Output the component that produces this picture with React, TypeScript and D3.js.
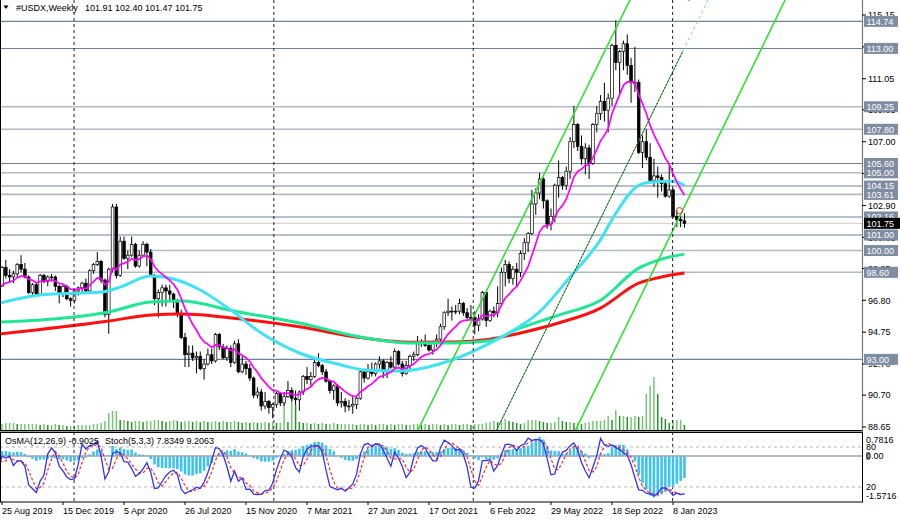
import { useRef, useEffect } from "react";
import * as d3 from "d3";

// weekly bars; the first 26 weeks (24 Feb 2019 .. 18 Aug 2019) sit left of the frame
// and only warm up the indicators. Week 0 is 25 Aug 2019.
const hiddenWeeks = 26;
const firstOpen = 96.4;

const closes = [
  96.5, 97.3, 96.6, 96.6, 97.3, 97.4, 97.0, 97.4, 98.0, 97.5, 97.3, 98.0, 97.6, 97.8, 96.5, 97.6, 96.2, 96.1, 97.3, 96.8, 97.1, 98.0, 98.1, 97.5, 98.1, 97.7,
  98.9, 98.4, 98.3, 98.5, 99.1, 98.8, 98.3, 97.3, 97.8, 97.2,
  98.4, 98.0, 98.3, 98.3, 97.7, 97.2, 97.7, 96.9, 96.8, 97.4,
  97.6, 97.9, 97.4, 98.7, 99.1, 99.3, 98.1, 95.9, 98.8, 102.8,
  98.4, 100.6, 99.5, 99.7, 100.4, 99.0, 99.7, 100.4, 99.9, 98.4,
  96.9, 97.3, 97.6, 97.4, 97.2, 96.7, 95.9, 94.4, 93.3, 93.4,
  93.1, 93.2, 92.4, 92.7, 93.3, 92.9, 94.6, 93.8, 93.1, 93.7,
  92.8, 94.0, 92.2, 92.7, 92.4, 91.8, 90.7, 90.9, 90.0, 90.3,
  89.9, 90.1, 90.8, 90.2, 90.6, 91.0, 90.5, 90.4, 90.9, 91.9,
  91.7, 91.9, 92.8, 92.6, 92.2, 91.6, 91.0, 91.3, 90.2, 90.3,
  90.0, 90.0, 90.1, 90.5, 92.2, 91.8, 92.2, 92.1, 92.7, 92.9,
  92.2, 92.8, 92.5, 93.5, 92.7, 92.1, 92.6, 93.2, 93.3, 94.0,
  94.1, 93.9, 93.6, 94.1, 94.3, 95.1, 96.0, 96.1, 96.1, 96.1,
  96.6, 96.0, 95.7, 95.7, 95.2, 95.6, 97.3, 95.5, 96.1, 96.0,
  96.6, 98.6, 99.1, 98.2, 98.8, 98.6, 99.8, 100.5, 101.1, 103.0,
  103.7, 104.6, 103.2, 101.7, 102.2, 104.2, 104.7, 104.2, 105.1, 107.0,
  108.1, 106.7, 105.9, 106.6, 105.6, 108.1, 108.8, 109.6, 109.0, 109.8,
  113.2, 112.1, 112.8, 113.3, 111.9, 110.8, 110.8, 106.3, 107.0, 106.0,
  104.5, 104.8, 104.7, 104.3, 103.5, 103.9, 102.2, 102.0, 101.91, 101.75,
];

const highs = [
  96.6, 97.7, 97.4, 96.9, 97.3, 97.5, 97.4, 97.5, 98.3, 98.1, 97.7, 98.0, 98.4, 98.3, 97.8, 97.6, 97.8, 96.4, 97.3, 97.6, 97.3, 98.1, 98.9, 98.2, 98.2, 98.5,
  99.0, 99.4, 98.8, 98.7, 99.2, 99.7, 99.2, 98.4, 97.9, 97.9,
  98.5, 98.5, 98.4, 98.5, 98.4, 97.8, 97.8, 97.8, 97.0, 97.5,
  97.7, 98.0, 98.2, 98.8, 99.2, 99.9, 99.4, 98.2, 98.9, 103.0,
  103.0, 100.9, 100.9, 100.0, 100.9, 100.5, 100.0, 100.6, 100.5, 100.1,
  98.5, 97.5, 97.8, 97.8, 97.8, 97.3, 96.9, 96.2, 94.7, 93.9,
  93.9, 93.5, 93.5, 93.0, 93.7, 93.7, 94.7, 94.7, 94.0, 93.9,
  93.9, 94.2, 94.3, 93.2, 92.9, 92.7, 91.9, 91.2, 91.1, 90.9,
  90.4, 90.2, 90.9, 90.9, 90.9, 91.6, 91.2, 91.0, 91.0, 92.0,
  92.5, 92.2, 93.0, 93.4, 92.7, 92.4, 91.7, 91.4, 91.4, 90.9,
  90.5, 90.4, 90.6, 90.6, 92.4, 92.4, 92.7, 92.8, 92.8, 93.2,
  93.0, 92.9, 93.2, 93.7, 93.6, 92.9, 92.9, 93.3, 93.5, 94.5,
  94.3, 94.6, 94.0, 94.2, 94.6, 95.3, 96.1, 96.9, 96.4, 96.5,
  96.9, 96.7, 96.3, 96.5, 96.1, 95.9, 97.4, 97.4, 96.2, 96.4,
  97.7, 98.9, 99.4, 99.3, 99.0, 99.2, 100.0, 100.8, 101.2, 103.9,
  104.0, 105.0, 104.7, 103.3, 102.7, 104.3, 105.8, 104.8, 105.4, 107.3,
  109.3, 108.2, 107.4, 106.9, 106.8, 108.2, 109.3, 110.0, 110.8, 110.1,
  113.3, 114.8, 112.9, 113.5, 113.9, 112.4, 113.1, 111.0, 107.4, 107.8,
  106.9, 105.9, 105.4, 104.9, 104.5, 105.6, 104.0, 102.6, 102.3, 102.4,
];

const lows = [
  95.9, 96.3, 96.5, 95.7, 96.5, 96.9, 96.7, 96.8, 97.3, 97.2, 97.0, 97.2, 97.5, 97.5, 96.5, 96.5, 96.1, 95.8, 96.0, 96.6, 96.6, 97.0, 97.9, 97.0, 97.2, 97.7,
  97.8, 98.2, 97.9, 97.9, 98.3, 98.6, 98.2, 97.2, 97.1, 97.1,
  97.1, 97.9, 97.7, 98.0, 97.4, 96.6, 97.0, 96.8, 96.4, 96.6,
  97.1, 97.3, 97.3, 97.3, 98.5, 99.0, 97.9, 95.7, 94.65, 98.6,
  98.2, 98.3, 99.4, 98.8, 99.6, 98.9, 98.9, 99.6, 99.0, 98.3,
  96.5, 95.7, 96.4, 96.4, 96.8, 96.3, 95.7, 94.3, 92.5, 92.5,
  92.9, 92.1, 92.3, 91.7, 92.6, 92.7, 92.8, 93.6, 93.0, 92.9,
  92.5, 92.7, 92.1, 92.1, 92.0, 91.6, 90.5, 90.5, 89.7, 89.8,
  89.5, 89.2, 89.9, 90.0, 90.0, 90.5, 90.3, 90.1, 89.7, 90.7,
  91.4, 91.3, 91.8, 92.5, 92.0, 91.5, 90.8, 90.4, 90.0, 89.9,
  89.6, 89.7, 89.5, 89.8, 90.4, 91.5, 91.7, 91.9, 91.9, 92.4,
  91.8, 91.8, 92.4, 92.4, 92.6, 91.9, 92.0, 92.3, 92.9, 93.2,
  93.8, 93.8, 93.5, 93.3, 93.8, 93.9, 94.9, 95.8, 95.5, 95.9,
  95.9, 95.8, 95.6, 95.6, 94.6, 94.8, 95.5, 95.1, 95.4, 95.7,
  95.7, 96.5, 97.7, 97.9, 97.8, 97.7, 98.3, 99.4, 99.9, 101.0,
  102.3, 103.3, 102.7, 101.4, 101.3, 101.8, 103.4, 103.9, 103.9, 104.6,
  106.6, 106.4, 105.5, 104.9, 104.6, 105.5, 107.6, 108.4, 108.3, 107.6,
  109.3, 111.6, 110.1, 111.6, 111.3, 109.5, 110.2, 106.2, 105.3, 105.8,
  104.4, 104.1, 103.4, 103.8, 103.4, 103.4, 102.1, 101.5, 101.5, 101.47,
];

// tick volume, thousands, from week 0
const volumes = [
  6, 7, 7, 7, 6, 6, 6, 6, 6, 6,
  5, 6, 5, 5, 6, 5, 5, 4, 4, 4,
  5, 5, 5, 5, 6, 6, 7, 9, 17, 19,
  19, 10, 10, 9, 8, 9, 9, 8, 9, 9,
  10, 10, 9, 8, 9, 10, 9, 8, 9, 9,
  8, 9, 8, 9, 8, 8, 9, 8, 9, 8,
  8, 9, 8, 7, 8, 7, 8, 7, 7, 8,
  7, 8, 7, 7, 29, 8, 39, 26, 8, 7,
  7, 6, 7, 6, 7, 6, 6, 7, 6, 6,
  6, 6, 6, 5, 6, 6, 5, 6, 5, 6,
  6, 5, 6, 5, 6, 6, 5, 5, 6, 6,
  5, 6, 5, 6, 6, 5, 6, 5, 6, 6,
  5, 6, 6, 5, 6, 6, 6, 7, 8, 9,
  8, 9, 11, 9, 8, 7, 6, 7, 10, 10,
  10, 9, 8, 7, 7, 8, 13, 9, 8, 8,
  7, 7, 6, 7, 8, 9, 9, 9, 10, 14,
  10, 20, 14, 14, 13, 13, 14, 13, 14, 36,
  44, 53, 36, 13, 11, 7, 10, 10, 10, 5,
];

// long moving averages: [week, value]
const ema50 = [
  [-0.6, 96.62], [10, 97.14], [26, 97.33], [31, 97.65], [39, 98.36], [45, 98.17], [52, 97.46],
  [60, 96.17], [68, 94.69], [78, 93.41], [89, 92.64], [95, 92.32], [104, 92.25], [118, 92.96],
  [128, 94.05], [131, 94.44], [141, 96.05], [149, 98.3], [157, 100.7], [161, 102.4], [167, 104.2],
  [170, 104.4], [176, 104.45], [179, 104.2],
];
const ema144 = [
  [-0.6, 95.4], [28, 96.05], [39, 96.69], [47, 96.75], [61, 96.1], [78, 95.34], [94, 94.44],
  [107, 94.05], [118, 94.05], [128, 94.2], [136, 95.02], [146, 95.85], [157, 96.8], [167, 98.87],
  [173, 99.45], [179, 99.77],
];
const ema200 = [
  [-0.6, 94.63], [28, 95.47], [39, 95.85], [47, 95.92], [62, 95.62], [78, 95.1], [94, 94.4],
  [107, 94.1], [118, 94.12], [128, 94.3], [136, 94.7], [146, 95.34], [157, 96.3], [167, 97.9],
  [173, 98.3], [179, 98.55],
];

// trend channel: [week1, price1, week2, price2]
const channelUpper = [109.1, 88.46, 164.7, 116.11];
const channelMiddle = [129.6, 88.39, 178.6, 112.83];
const channelLower = [150.3, 88.39, 205.4, 116.11];

const levels = [114.74, 113.0, 109.25, 107.8, 105.6, 105.0, 104.15, 103.61, 102.16, 101.0, 100.0, 98.6, 93.0];
const levelDark = [true, true, false, false, true, false, true, false, true, true, false, false, true];

const priceTicks = [115.15, 113.1, 111.05, 109.05, 107.0, 104.95, 102.9, 100.85, 98.85, 96.8, 94.75, 92.7, 90.7, 88.65];
const dateTicks = [
  "25 Aug 2019", "15 Dec 2019", "5 Apr 2020", "26 Jul 2020", "15 Nov 2020", "7 Mar 2021",
  "27 Jun 2021", "17 Oct 2021", "6 Feb 2022", "29 May 2022", "18 Sep 2022", "8 Jan 2023",
];
const gridWeeks = [18.9, 71.3, 123.6, 175.9];

const subLabels = ["0.7816", "80", "0.00", "20", "-1.5716"];
const osmaHeader = "OsMA(12,26,9) -0.9025";
const stochHeader = "Stoch(5,3,3) 7.8349 9.2063";

const App = () => {
  const svgRef = useRef(null);

  useEffect(() => {
    const svg = d3.select(svgRef.current);
    svg.selectAll("*").remove();

    const font = "'Liberation Sans', Arial, sans-serif";
    const right = 862;
    const week0 = Date.UTC(2019, 7, 25);

    const x = d3.scaleLinear().domain([0, 179]).range([2, 684.44]);
    const y = d3.scaleLinear().domain([88.65, 115.15]).range([427, 15]);
    const yVol = d3.scaleLinear().domain([0, 53]).range([430, 377]);
    const yOsma = d3.scaleLinear().domain([-1.5716, 0.7816]).range([500, 434]);
    const yStoch = d3.scaleLinear().domain([0, 100]).range([500.3, 433.7]);

    const bars = closes.map((c, i) => {
      const o = i === 0 ? firstOpen : closes[i - 1];
      return {
        w: i - hiddenWeeks,
        o,
        c,
        h: Math.max(highs[i], o, c),
        l: Math.min(lows[i], o, c),
      };
    });

    // indicators from the bars
    const emaOf = (vals, n) => {
      const k = 2 / (n + 1);
      const out = [];
      vals.forEach((v, i) => out.push(i === 0 ? v : out[i - 1] + k * (v - out[i - 1])));
      return out;
    };
    const fast = emaOf(closes, 10);
    const e12 = emaOf(closes, 12);
    const e26 = emaOf(closes, 26);
    const macd = e12.map((v, i) => v - e26[i]);
    const signal = macd.map((_, i) => d3.mean(macd.slice(Math.max(0, i - 8), i + 1)));
    const osma = macd.map((v, i) => v - signal[i]);
    const raw = bars.map((b, i) => {
      const win = bars.slice(Math.max(0, i - 4), i + 1);
      const lo = d3.min(win, (d) => d.l);
      const hi = d3.max(win, (d) => d.h);
      return [b.c - lo, hi - lo];
    });
    const stochK = raw.map((_, i) => {
      const win = raw.slice(Math.max(0, i - 2), i + 1);
      return (100 * d3.sum(win, (d) => d[0])) / d3.sum(win, (d) => d[1]);
    });
    const stochD = stochK.map((_, i) => d3.mean(stochK.slice(Math.max(0, i - 2), i + 1)));

    const defs = svg.append("defs");
    defs.append("clipPath").attr("id", "clip-main")
      .append("rect").attr("x", 0).attr("y", 0).attr("width", right).attr("height", 430);
    defs.append("clipPath").attr("id", "clip-sub")
      .append("rect").attr("x", 1).attr("y", 433).attr("width", right - 1).attr("height", 68);

    svg.append("rect").attr("width", 900).attr("height", 520).attr("fill", "#fff");

    const main = svg.append("g").attr("clip-path", "url(#clip-main)");

    // horizontal levels
    main.selectAll("line.level")
      .data(levels)
      .join("line")
      .attr("x1", 0)
      .attr("x2", right)
      .attr("y1", (d) => y(d))
      .attr("y2", (d) => y(d))
      .attr("stroke", (d, i) => (levelDark[i] ? "#6f819b" : "#b3bcc6"))
      .attr("stroke-width", (d, i) => (levelDark[i] ? 1.1 : 1.6));

    const last = bars[bars.length - 1];
    main.append("line")
      .attr("x1", 0).attr("x2", right)
      .attr("y1", y(last.c)).attr("y2", y(last.c))
      .attr("stroke", "#d4d4d4").attr("stroke-width", 1.2);

    // dashed grid
    svg.selectAll("line.grid")
      .data(gridWeeks)
      .join("line")
      .attr("x1", (d) => x(d))
      .attr("x2", (d) => x(d))
      .attr("y1", 0)
      .attr("y2", 503)
      .attr("stroke", "#222")
      .attr("stroke-width", 1)
      .attr("stroke-dasharray", "3,3");

    // volumes
    main.selectAll("line.vol")
      .data(volumes)
      .join("line")
      .attr("x1", (d, i) => x(i))
      .attr("x2", (d, i) => x(i))
      .attr("y1", yVol(0))
      .attr("y2", (d) => yVol(d))
      .attr("stroke", (d, i) => (i > 0 && d < volumes[i - 1] ? "#2a8f2a" : "#74c674"))
      .attr("stroke-width", 1.5);

    // candles
    const candle = main.selectAll("g.bar").data(bars).join("g");
    candle.append("line")
      .attr("x1", (d) => x(d.w))
      .attr("x2", (d) => x(d.w))
      .attr("y1", (d) => y(d.h))
      .attr("y2", (d) => y(d.l))
      .attr("stroke", "#000")
      .attr("stroke-width", 1);
    candle.append("rect")
      .attr("x", (d) => x(d.w) - 1.35)
      .attr("width", 2.7)
      .attr("y", (d) => y(Math.max(d.o, d.c)))
      .attr("height", (d) => Math.max(0.8, Math.abs(y(d.o) - y(d.c))))
      .attr("fill", (d) => (d.c >= d.o ? "#fff" : "#000"))
      .attr("stroke", "#000")
      .attr("stroke-width", 0.7);

    // moving averages
    const curve = d3.line().x((d) => x(d[0])).y((d) => y(d[1])).curve(d3.curveMonotoneX);
    [
      [ema200, "#ff1010", 3],
      [ema144, "#1ee894", 3],
      [ema50, "#3fe3f2", 3],
    ].forEach(([pts, color, width]) => {
      main.append("path")
        .attr("d", curve(pts))
        .attr("fill", "none")
        .attr("stroke", color)
        .attr("stroke-width", width)
        .attr("stroke-linejoin", "round");
    });

    const fastLine = d3.line().x((d, i) => x(i - hiddenWeeks)).y((d) => y(d));
    main.append("path")
      .attr("d", fastLine(fast))
      .attr("fill", "none")
      .attr("stroke", "#ff00ff")
      .attr("stroke-width", 1.7);

    // trend channel
    const ray = (c, w1, w2) => {
      const at = (w) => c[1] + ((c[3] - c[1]) * (w - c[0])) / (c[2] - c[0]);
      return [[x(w1), y(at(w1))], [x(w2), y(at(w2))]];
    };
    const seg = d3.line();
    [channelUpper, channelLower].forEach((c) => {
      main.append("path")
        .attr("d", seg(ray(c, 80, 240)))
        .attr("stroke", "#33e033")
        .attr("stroke-width", 1.6)
        .attr("fill", "none");
    });
    main.append("path")
      .attr("d", seg(ray(channelMiddle, channelMiddle[0] - 2, channelMiddle[2])))
      .attr("stroke", "#38b038")
      .attr("stroke-width", 1);
    main.append("path")
      .attr("d", seg(ray(channelMiddle, channelMiddle[0] - 2, channelMiddle[2])))
      .attr("stroke", "#111")
      .attr("stroke-width", 0.8)
      .attr("stroke-dasharray", "1.5,2");
    main.append("path")
      .attr("d", seg(ray(channelMiddle, channelMiddle[2], 240)))
      .attr("stroke", "#6cec6c")
      .attr("stroke-width", 1)
      .attr("stroke-dasharray", "3,3");

    // markers
    main.append("circle")
      .attr("cx", x(177.7)).attr("cy", y(102.56)).attr("r", 3.2)
      .attr("fill", "none").attr("stroke", "#e03030").attr("stroke-width", 1);
    main.append("path")
      .attr("d", `M${x(180.2)},${y(116.4) - 6} l6,6 l-6,6 l-6,-6 z`)
      .attr("fill", "#a8a8a8");

    // panel frames
    svg.append("line").attr("x1", 0.5).attr("x2", 0.5).attr("y1", 0).attr("y2", 431).attr("stroke", "#000");
    svg.append("line").attr("x1", 0).attr("x2", right).attr("y1", 430.5).attr("y2", 430.5).attr("stroke", "#000");
    svg.append("rect").attr("x", 0).attr("y", 431).attr("width", right).attr("height", 1.5).attr("fill", "#9a9a9a");
    svg.append("line").attr("x1", right + 0.5).attr("x2", right + 0.5).attr("y1", 0).attr("y2", 432).attr("stroke", "#7a7a7a").attr("stroke-width", 1.2);

    // sub window
    const sub = svg.append("g").attr("clip-path", "url(#clip-sub)");
    sub.selectAll("rect.osma")
      .data(osma)
      .join("rect")
      .attr("x", (d, i) => x(i - hiddenWeeks) - 1.3)
      .attr("width", 2.6)
      .attr("y", (d) => Math.min(yOsma(0), yOsma(d)))
      .attr("height", (d) => Math.abs(yOsma(d) - yOsma(0)))
      .attr("fill", "#3cc2f2");
    sub.append("line")
      .attr("x1", 0).attr("x2", right)
      .attr("y1", yOsma(0)).attr("y2", yOsma(0))
      .attr("stroke", "#9aa6b2").attr("stroke-width", 1.5);
    sub.selectAll("line.lvl")
      .data([80, 20])
      .join("line")
      .attr("x1", 0).attr("x2", right)
      .attr("y1", (d) => yStoch(d)).attr("y2", (d) => yStoch(d))
      .attr("stroke", "#b4b4b4").attr("stroke-dasharray", "3,3");
    const stochLine = d3.line().x((d, i) => x(i - hiddenWeeks)).y((d) => yStoch(d));
    sub.append("path")
      .attr("d", stochLine(stochD))
      .attr("fill", "none").attr("stroke", "#ff2a2a").attr("stroke-width", 1.2).attr("stroke-dasharray", "3,2");
    sub.append("path")
      .attr("d", stochLine(stochK))
      .attr("fill", "none").attr("stroke", "#3434ee").attr("stroke-width", 1.3);
    svg.append("rect")
      .attr("x", 0.5).attr("y", 432.5).attr("width", right).attr("height", 69.5)
      .attr("fill", "none").attr("stroke", "#000").attr("stroke-width", 1);

    const txt = (g, px, py, s, fill = "#000") =>
      g.append("text").attr("x", px).attr("y", py).attr("fill", fill)
        .style("font-family", font).style("font-size", "9px").text(s);

    // price axis
    priceTicks.forEach((p) => {
      svg.append("line").attr("x1", right).attr("x2", right + 4).attr("y1", y(p)).attr("y2", y(p)).attr("stroke", "#000");
      txt(svg, right + 6, y(p) + 3.3, p.toFixed(2));
    });
    levels.forEach((p) => {
      svg.append("rect").attr("x", right + 2).attr("y", y(p) - 5.5).attr("width", 34).attr("height", 11).attr("fill", "#7e8da1");
      txt(svg, right + 4.5, y(p) + 3.3, p.toFixed(2), "#fff");
    });
    svg.append("rect").attr("x", right + 2).attr("y", y(last.c) - 5.5).attr("width", 36).attr("height", 11).attr("fill", "#000");
    txt(svg, right + 4.5, y(last.c) + 3.3, last.c.toFixed(2), "#fff");

    // sub window scale
    svg.append("rect").attr("x", right + 4).attr("y", yOsma(0) - 4).attr("width", 4).attr("height", 8).attr("fill", "#8a98aa");
    const subY = [yOsma(0.7816) + 8.5, yStoch(80) + 3, yOsma(0) + 3.3, yStoch(20) + 3, yOsma(-1.5716) - 1.5];
    subLabels.forEach((s, i) => txt(svg, right + 4, subY[i], s));

    // date axis
    const parse = d3.utcParse("%d %b %Y");
    dateTicks.forEach((s) => {
      const w = (parse(s).getTime() - week0) / (7 * 864e5);
      svg.append("line").attr("x1", x(w)).attr("x2", x(w)).attr("y1", 502).attr("y2", 505).attr("stroke", "#000");
      txt(svg, x(w), 514, s);
    });

    // headers
    svg.append("path").attr("d", "M3.5,5.5 L8.5,5.5 L6,9 Z").attr("fill", "#000");
    txt(svg, 16, 10.5, "#USDX,Weekly");
    txt(svg, 85, 10.5, [last.o, last.h, last.l, last.c].map((v) => v.toFixed(2)).join(" "));
    txt(svg, 5, 444, osmaHeader);
    txt(svg, 105, 444, stochHeader);
  }, []);

  return (
    <div style={{ position: "absolute", left: 0, top: 0, width: 900, height: 520 }}>
      <svg ref={svgRef} width={900} height={520}></svg>
    </div>
  );
};

export default App;
